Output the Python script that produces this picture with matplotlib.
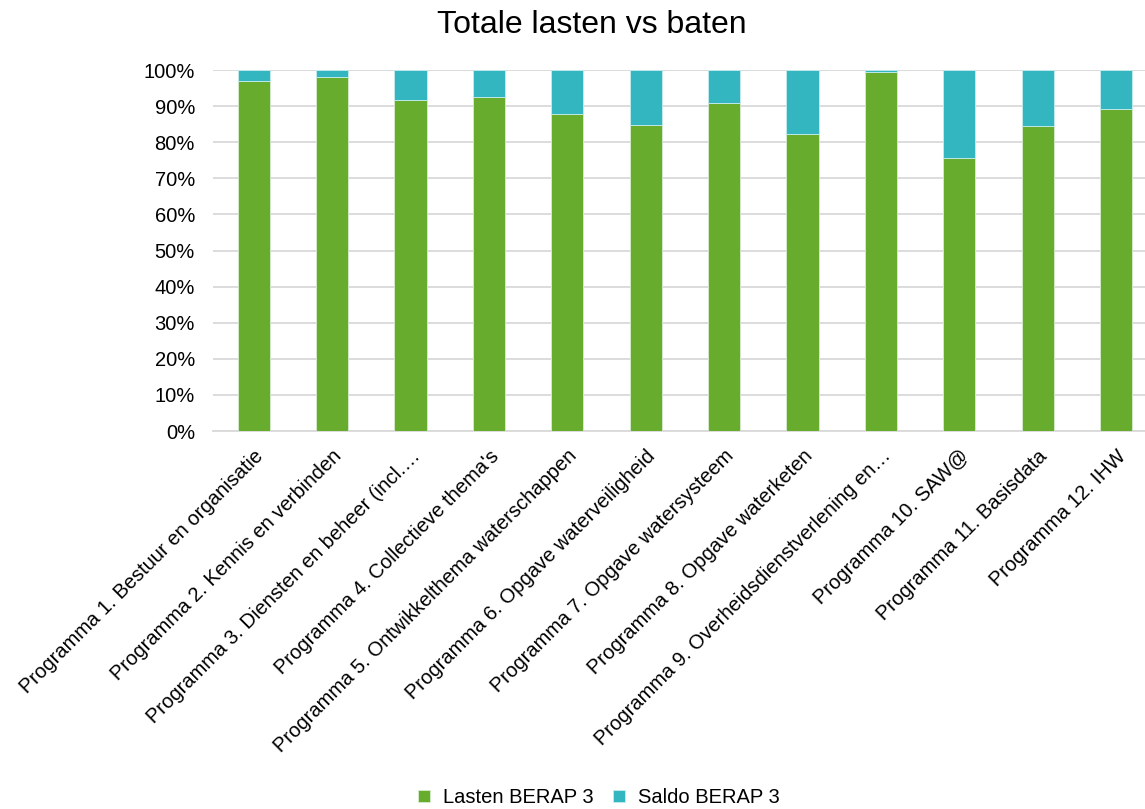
import matplotlib.pyplot as plt
from matplotlib.ticker import PercentFormatter

plt.rcParams['font.family'] = ['Liberation Sans', 'DejaVu Sans']

programmas = [
    "Programma 1. Bestuur en organisatie",
    "Programma 2. Kennis en verbinden",
    "Programma 3. Diensten en beheer (incl.…",
    "Programma 4. Collectieve thema's",
    "Programma 5. Ontwikkelthema waterschappen",
    "Programma 6. Opgave waterveiligheid",
    "Programma 7. Opgave watersysteem",
    "Programma 8. Opgave waterketen",
    "Programma 9. Overheidsdienstverlening en…",
    "Programma 10. SAW@",
    "Programma 11. Basisdata",
    "Programma 12. IHW",
]
lasten = [97.0, 98.0, 91.7, 92.6, 87.8, 84.8, 90.8, 82.4, 99.4, 75.6, 84.4, 89.2]
saldo = [100 - v for v in lasten]

green = '#68AC2E'
teal = '#33B6C0'

fig = plt.figure(figsize=(11.45, 8.09), dpi=100)
ax = fig.add_axes([213 / 1145, 1 - 431 / 809, 1 - 213 / 1145, (431 - 70) / 809])

x = range(len(programmas))
ax.bar(x, lasten, width=0.41, color=green, edgecolor='#d8ecd0', linewidth=0.6,
       label='Lasten BERAP 3', zorder=3)
ax.bar(x, saldo, width=0.41, bottom=lasten, color=teal, edgecolor='#c8ecef',
       linewidth=0.6, label='Saldo BERAP 3', zorder=3)

ax.set_ylim(0, 100)
ax.set_xlim(-0.52, 11.37)
ax.set_yticks(range(0, 101, 10))
ax.yaxis.set_major_formatter(PercentFormatter(decimals=0))
ax.grid(axis='y', color='#d9d9d9', linewidth=1.3, zorder=0)
for s in ['top', 'right', 'left']:
    ax.spines[s].set_visible(False)
ax.spines['bottom'].set_color('#d9d9d9')
ax.spines['bottom'].set_linewidth(1.3)
ax.tick_params(axis='both', length=0, labelsize=14.5, colors='#000000')
ax.tick_params(axis='y', pad=13)
ax.set_xticks(list(x))
ax.set_xticklabels(programmas, rotation=45, ha='right', rotation_mode='anchor')
ax.tick_params(axis='x', pad=11)

fig.suptitle('Totale lasten vs baten', fontsize=23, x=0.517, y=0.988)
fig.legend(loc='lower center', bbox_to_anchor=(0.523, -0.02), ncol=2, frameon=False,
           fontsize=14.5, handlelength=0.6, handleheight=0.6, columnspacing=1.0,
           handletextpad=0.6)

fig.savefig('out.png', dpi=100)
